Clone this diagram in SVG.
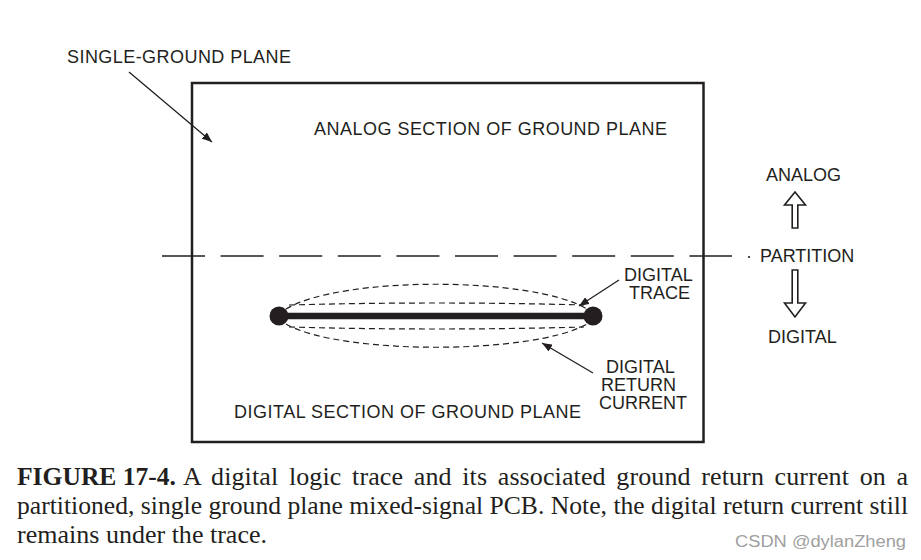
<svg xmlns="http://www.w3.org/2000/svg" width="921" height="560" viewBox="0 0 921 560">
<style>
.lbl{font-family:"Liberation Sans",Arial,sans-serif;font-size:18px;fill:#231f20}
.cap{font-family:"Liberation Serif","Times New Roman",serif;font-size:26px;fill:#231f20}
.ptr{stroke:#231f20;stroke-width:1.3;fill:none}
.dsh{stroke:#231f20;stroke-width:1.2;fill:none;stroke-dasharray:6 4}
.blk{fill:#fff;stroke:#231f20;stroke-width:1.6;stroke-linejoin:miter}
</style>
<defs>
<marker id="ah" viewBox="0 0 10 8" refX="10" refY="4" markerWidth="10" markerHeight="8" markerUnits="userSpaceOnUse" orient="auto">
<path d="M0,0 L10,4 L0,8 Z" fill="#231f20"/>
</marker>
</defs>
<rect width="921" height="560" fill="#fff"/>

<g id="ground-plane">
<rect x="192" y="83" width="511.5" height="359" fill="none" stroke="#231f20" stroke-width="2.5"/>
</g>

<g id="partition-line">
<line x1="162" y1="256" x2="732" y2="256" stroke="#231f20" stroke-width="1.6" stroke-dasharray="43 15.6"/>
<circle cx="749" cy="257" r="1.1" fill="#231f20"/>
</g>

<g id="digital-trace">
<line x1="279" y1="316" x2="593" y2="316" stroke="#231f20" stroke-width="6.5"/>
<circle cx="279" cy="316" r="9.5" fill="#231f20"/>
<circle cx="593" cy="316" r="9.5" fill="#231f20"/>
</g>

<g id="return-current">
<path class="dsh" d="M286,309 C340,276 532,276 587,309"/>
<path class="dsh" d="M289,305 Q436,301 584,305"/>
<path class="dsh" d="M289,327 Q436,331 584,327"/>
<path class="dsh" d="M286,324 C340,355 532,355 587,324"/>
</g>

<g id="arrow-analog">
<polygon class="blk" points="795,192 805.5,205 797.8,205 797.8,228 792.2,228 792.2,205 784.5,205"/>
</g>
<g id="arrow-digital">
<polygon class="blk" points="792.2,270 797.8,270 797.8,303 805.5,303 795,317 784.5,303 792.2,303"/>
</g>

<g id="connectors">
<line class="ptr" x1="129" y1="72" x2="212" y2="142" marker-end="url(#ah)"/>
<line class="ptr" x1="619" y1="280" x2="579" y2="306" marker-end="url(#ah)"/>
<line class="ptr" x1="593" y1="373" x2="542" y2="343" marker-end="url(#ah)"/>
</g>

<g id="labels">
<text class="lbl" x="67" y="63" textLength="224" lengthAdjust="spacing">SINGLE-GROUND PLANE</text>
<text class="lbl" x="314" y="135" textLength="353" lengthAdjust="spacing">ANALOG SECTION OF GROUND PLANE</text>
<text class="lbl" x="766" y="181">ANALOG</text>
<text class="lbl" x="760" y="262">PARTITION</text>
<text class="lbl" x="768" y="343">DIGITAL</text>
<text class="lbl" x="624" y="281">DIGITAL</text>
<text class="lbl" x="629" y="299">TRACE</text>
<text class="lbl" x="606" y="373">DIGITAL</text>
<text class="lbl" x="601" y="391">RETURN</text>
<text class="lbl" x="599" y="409">CURRENT</text>
<text class="lbl" x="234" y="418" textLength="347" lengthAdjust="spacing">DIGITAL SECTION OF GROUND PLANE</text>
</g>

<g id="caption">
<text class="cap" x="17" y="485" font-weight="bold" textLength="159" lengthAdjust="spacingAndGlyphs">FIGURE 17-4.</text>
<text class="cap" x="183" y="485" word-spacing="4" textLength="725" lengthAdjust="spacing">A digital logic trace and its associated ground return current on a</text>
<text class="cap" x="17" y="514" textLength="891" lengthAdjust="spacingAndGlyphs">partitioned, single ground plane mixed-signal PCB. Note, the digital return current still</text>
<text class="cap" x="17" y="543" textLength="250" lengthAdjust="spacingAndGlyphs">remains under the trace.</text>
<text x="735" y="547" font-family="'Liberation Sans',Arial,sans-serif" font-size="16" fill="#a0a0a0" textLength="171" lengthAdjust="spacingAndGlyphs">CSDN @dylanZheng</text>
</g>
</svg>
